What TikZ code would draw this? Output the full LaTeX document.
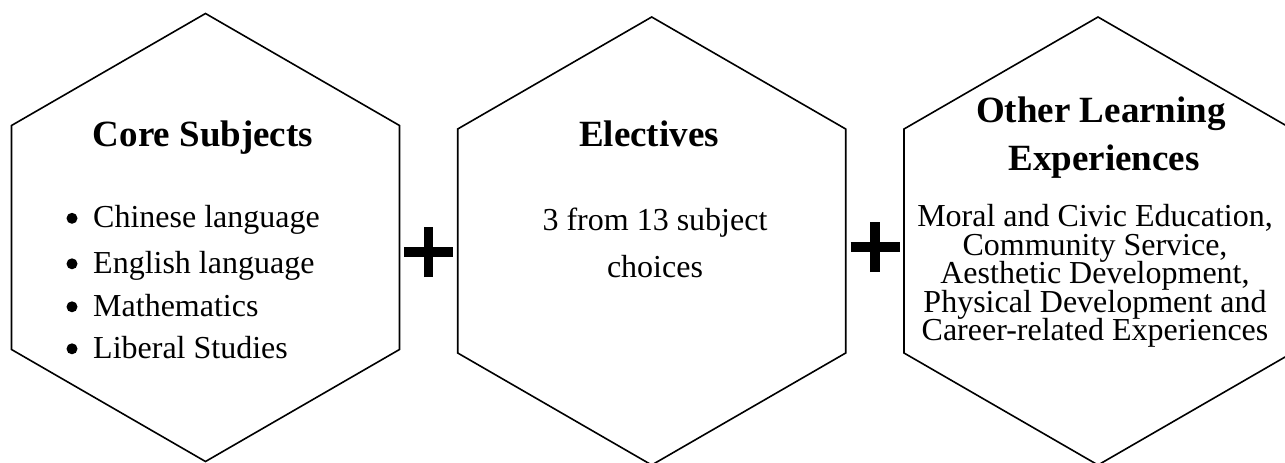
\documentclass[tikz,border=0pt]{standalone}
\usepackage{fontspec}
\setmainfont{Liberation Serif}
\usetikzlibrary{shapes.geometric}
% let closely set lines keep their baseline distance
\newcommand{\tightskip}{\lineskiplimit -40pt\relax}
\tikzset{
  hexa/.style={draw=black, line width=1.6pt, regular polygon, regular polygon sides=6,
    shape border rotate=30, minimum size=448pt, inner sep=0pt, outer sep=0pt},
  head/.style={anchor=base, inner sep=0pt, font=\fontsize{37}{40}\selectfont\bfseries},
  body/.style={anchor=base, inner sep=0pt, font=\fontsize{32}{34}\selectfont},
  block/.style={anchor=base, inner sep=0pt, align=center,
    font=\fontsize{32}{28.5}\selectfont\tightskip},
  item/.style={body, anchor=base west},
  dot/.style={circle, fill=black, inner sep=0pt, minimum size=11pt},
  plusbar/.style={line width=9.5pt, black}
}
\begin{document}
\begin{tikzpicture}[x=1pt, y=-1pt]
  \useasboundingbox (0,0) rectangle (1285,463);
  \clip (0,0) rectangle (1285,463);

  % the three hexagons
  \node[hexa] (core) at (205.5,237.5) {};
  \node[hexa] (elec) at (651.7,241) {};
  \node[hexa] (ole)  at (1098,241) {};

  % core subjects
  \node[head] (coreT) at (203,146.7) {Core Subjects};
  \foreach \y/\t [count=\i] in {227.5/Chinese language, 273/English language,
                               316/Mathematics, 358/Liberal Studies} {
    \node[dot]  (coreB\i) at (72,\y-9.2) {};
    \node[item] (coreI\i) at (93,\y) {\t};
  }

  % electives
  \node[head] (elecT) at (649,146) {Electives};
  \node[body] (elecL1) at (655,230) {3 from 13 subject};
  \node[body] (elecL2) at (655,277) {choices};

  % other learning experiences (base anchor sits on the last line)
  \node[head] (oleT1) at (1101,122.3) {Other Learning};
  \node[head] (oleT2) at (1104,170) {Experiences};
  \node[block] (oleL) at (1095,340.5) {Moral and Civic Education,\\
    Community Service,\\ Aesthetic Development,\\
    Physical Development and\\ Career-related Experiences};

  % plus signs between the hexagons
  \coordinate (plusA) at (428.5,252);
  \coordinate (plusB) at (875,247);
  \foreach \p in {plusA, plusB} {
    \draw[plusbar] ([xshift=-24.5pt]\p) -- ([xshift=24.5pt]\p);
    \draw[plusbar] ([yshift=-25pt]\p) -- ([yshift=25pt]\p);
  }
\end{tikzpicture}
\end{document}
